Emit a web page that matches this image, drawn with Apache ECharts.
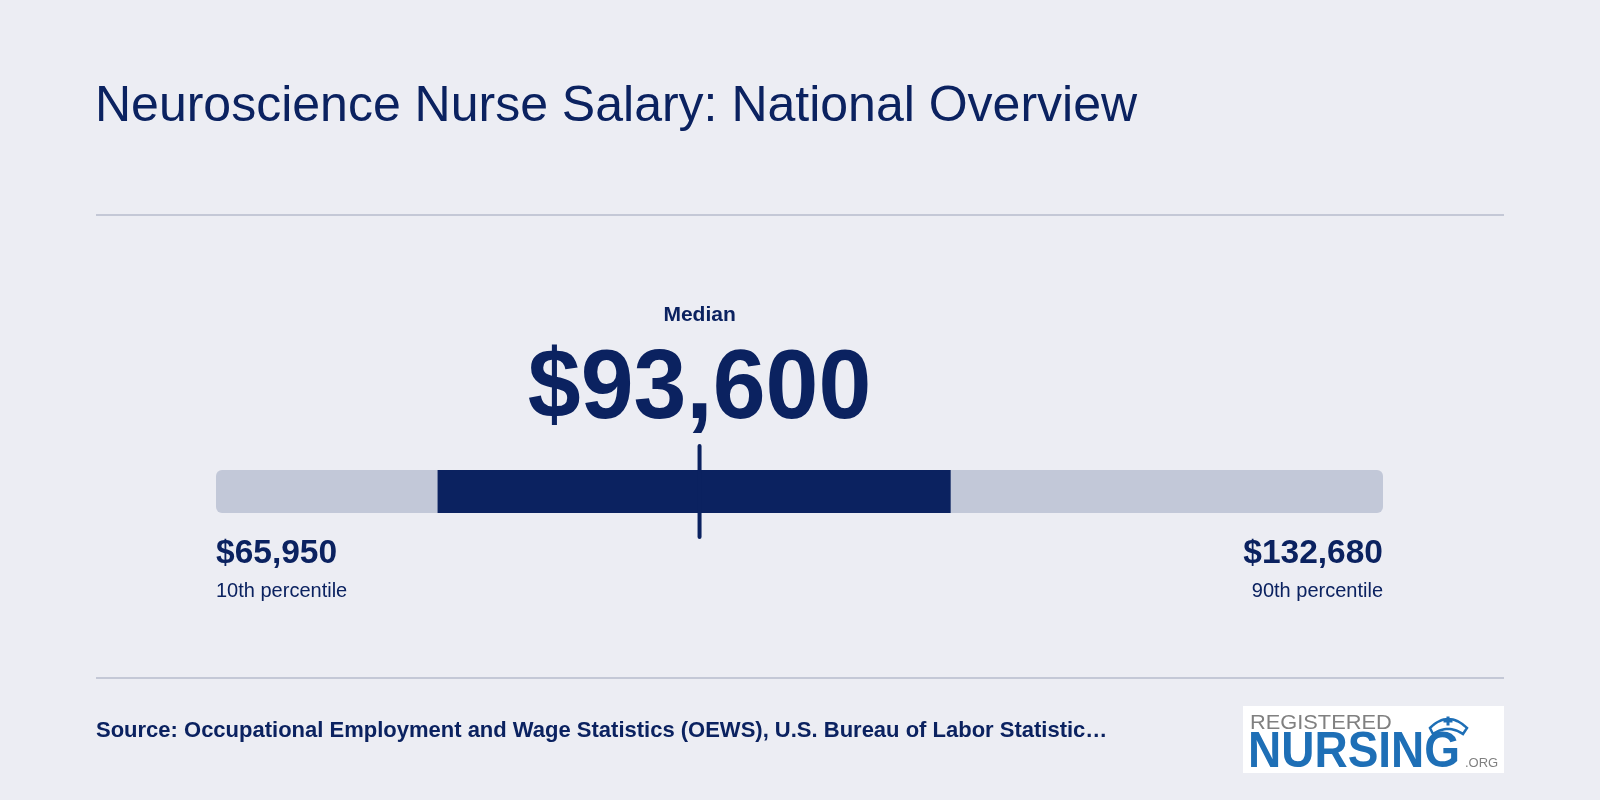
<!DOCTYPE html>
<html>
<head>
<meta charset="utf-8">
<script src="https://cdn.jsdelivr.net/npm/echarts@6/dist/echarts.min.js"></script>
<style>
  html, body { margin: 0; padding: 0; background: #ecedf3; }
  #chart { width: 1600px; height: 800px; }
</style>
</head>
<body>
<div id="chart"></div>
<script>
// ---- data ----
const statNames = ['10th percentile', '25th percentile', 'Median', '75th percentile', '90th percentile'];
const statValues = [65950, 78620, 93600, 107960, 132680];
const titleText = 'Neuroscience Nurse Salary: National Overview';
const sourceText = 'Source: Occupational Employment and Wage Statistics (OEWS), U.S. Bureau of Labor Statistic\u2026';
const categories = ['National'];

// derived
const p10 = statValues[0], p25 = statValues[1], med = statValues[2], p75 = statValues[3], p90 = statValues[4];
const rangeData = [[p10, p90, 0], [p25, p75, 0]];
const medianData = [[med, 0]];
const endData = [[p10, 0, 0], [p90, 0, 4]];

const NAVY = '#0b2260';
const LIGHT = '#c2c8d8';
const FONT = '"Liberation Sans", Arial, Helvetica, sans-serif';
const fmt = v => '$' + v.toLocaleString('en-US');

function txt(x, y, text, font, fill, align, valign, extra) {
  const el = { type: 'text', x: x, y: y, style: { text: text, font: font, fill: fill,
    align: align, verticalAlign: valign, textAlign: align, textVerticalAlign: valign } };
  return Object.assign(el, extra || {});
}

// nurse-cap outline for the logo (decoration)
function quad(p0, p1, p2, n) {
  const pts = [];
  for (let i = 0; i <= n; i++) {
    const t = i / n, u = 1 - t;
    pts.push([u * u * p0[0] + 2 * u * t * p1[0] + t * t * p2[0], u * u * p0[1] + 2 * u * t * p1[1] + t * t * p2[1]]);
  }
  return pts;
}
const capPts = quad([1430, 728], [1448, 710], [1467, 728], 16).concat(quad([1463, 734], [1448, 724], [1433, 734], 16));

const chart = echarts.init(document.getElementById('chart'));
chart.setOption({
  backgroundColor: '#ecedf3',
  animation: false,
  grid: { left: 216, right: 217, top: 470, height: 43 },
  xAxis: { type: 'value', min: p10, max: p90, show: false },
  yAxis: { type: 'category', data: categories, show: false },
  graphic: [
    txt(95, 107, titleText, '50px ' + FONT, NAVY, 'left', 'middle'),
    { type: 'line', shape: { x1: 96, y1: 215, x2: 1504, y2: 215 }, style: { stroke: '#c4c8d6', lineWidth: 2 } },
    { type: 'line', shape: { x1: 96, y1: 678, x2: 1504, y2: 678 }, style: { stroke: '#c4c8d6', lineWidth: 2 } },
    txt(96, 731, sourceText, 'bold 22px ' + FONT, NAVY, 'left', 'middle'),
    // logo
    { type: 'rect', shape: { x: 1243, y: 706, width: 261, height: 67 }, style: { fill: '#ffffff' } },
    txt(1250, 723, 'REGISTERED', '20px ' + FONT, '#808080', 'left', 'middle', { scaleX: 1.09 }),
    txt(1248, 753, 'NURSING', 'bold 50px ' + FONT, '#1e6fb6', 'left', 'middle', { scaleX: 0.92 }),
    txt(1465, 763, '.ORG', '13px ' + FONT, '#808080', 'left', 'middle'),
    { type: 'polygon', shape: { points: capPts }, style: { fill: '#ffffff', stroke: '#1e6fb6', lineWidth: 2.5 } },
    { type: 'rect', shape: { x: 1446.5, y: 716.5, width: 3, height: 9 }, style: { fill: '#1e6fb6' } },
    { type: 'rect', shape: { x: 1443.5, y: 719.5, width: 9, height: 3 }, style: { fill: '#1e6fb6' } }
  ],
  series: [
    {
      type: 'custom',
      data: rangeData,
      encode: { x: [0, 1], y: 2 },
      renderItem: function (params, api) {
        const a = api.coord([api.value(0), 0]);
        const b = api.coord([api.value(1), 0]);
        const h = 43;
        const full = params.dataIndex === 0;
        return {
          type: 'rect',
          shape: { x: a[0], y: a[1] - h / 2, width: b[0] - a[0], height: h, r: full ? 6 : 0 },
          style: { fill: full ? LIGHT : NAVY }
        };
      }
    },
    {
      type: 'custom',
      data: medianData,
      encode: { x: 0, y: 1 },
      z: 5,
      renderItem: function (params, api) {
        const c = api.coord([api.value(0), 0]);
        return {
          type: 'group',
          children: [
            { type: 'line', shape: { x1: c[0], y1: c[1] - 45.5, x2: c[0], y2: c[1] + 45.5 },
              style: { stroke: NAVY, lineWidth: 4, lineCap: 'round' } },
            txt(c[0], c[1] - 176, statNames[2], 'bold 21px ' + FONT, NAVY, 'center', 'middle'),
            txt(c[0], c[1] - 101, fmt(api.value(0)), 'bold 99px ' + FONT, NAVY, 'center', 'middle', { scaleX: 0.96 })
          ]
        };
      }
    },
    {
      type: 'custom',
      data: endData,
      encode: { x: 0, y: 1 },
      renderItem: function (params, api) {
        const c = api.coord([api.value(0), 0]);
        const left = params.dataIndex === 0;
        const align = left ? 'left' : 'right';
        return {
          type: 'group',
          children: [
            txt(c[0], c[1] + 62.5, fmt(api.value(0)), 'bold 33.5px ' + FONT, NAVY, align, 'middle'),
            txt(c[0], c[1] + 100, statNames[api.value(2)], '20px ' + FONT, NAVY, align, 'middle')
          ]
        };
      }
    }
  ]
});
</script>
</body>
</html>
